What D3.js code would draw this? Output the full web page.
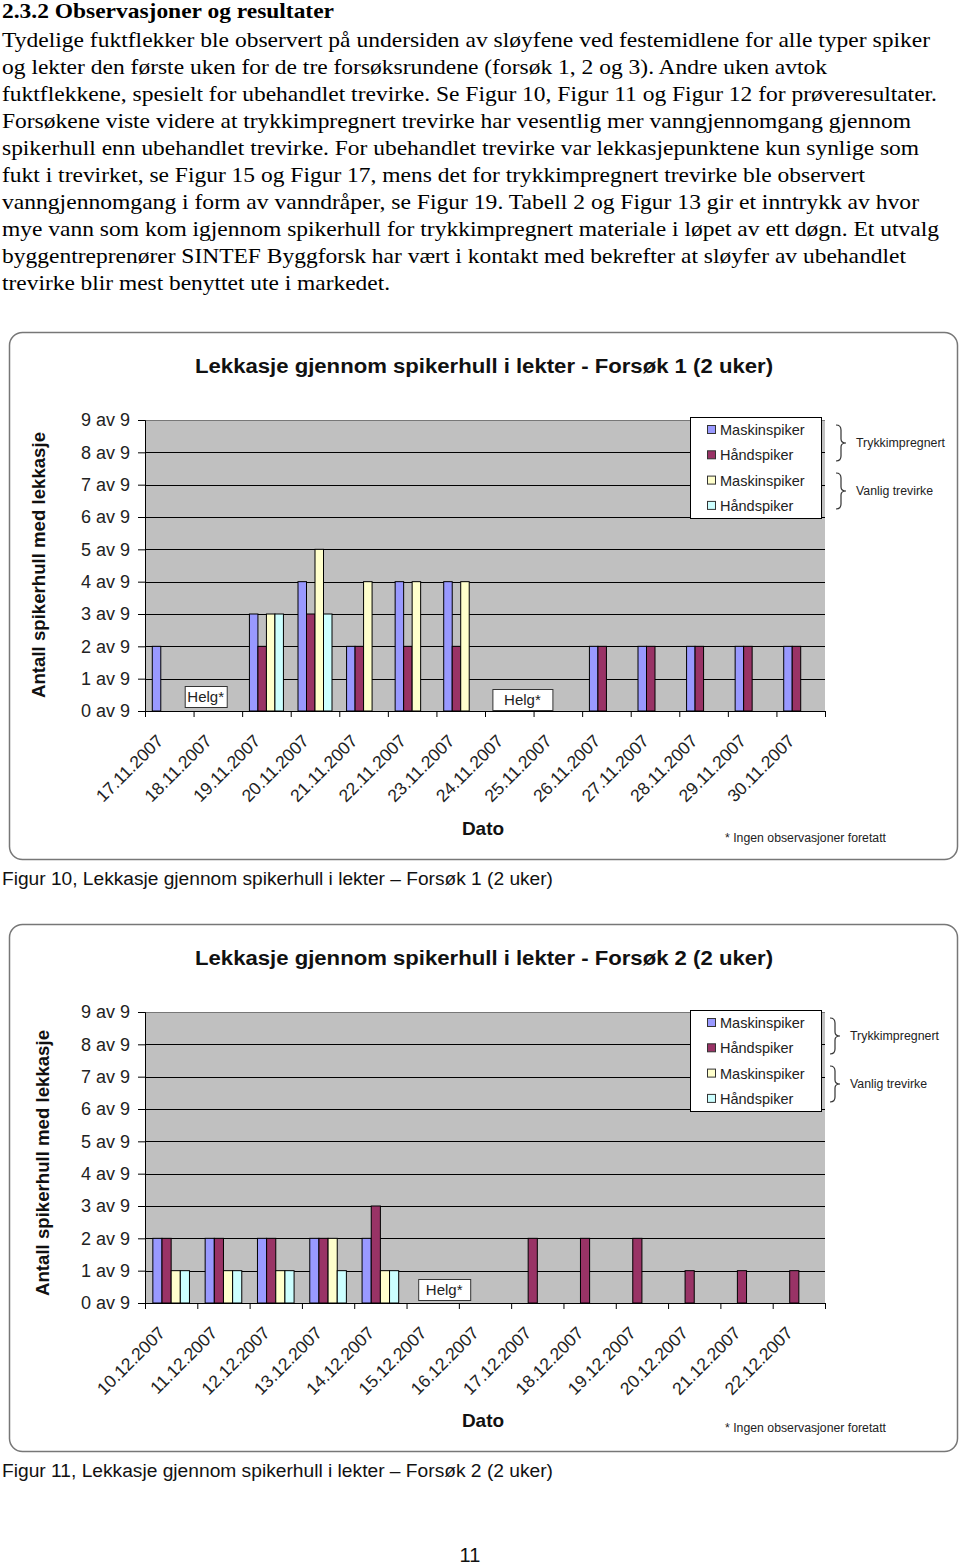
<!DOCTYPE html>
<html>
<head>
<meta charset="utf-8">
<script src="https://cdn.jsdelivr.net/npm/d3@7/dist/d3.min.js"></script>
<style>
  body { margin: 0; background: #fff; }
  svg { display: block; }
</style>
</head>
<body>
<div id="page"></div>
<script>
// chart data
var dates1 = ["17.11.2007", "18.11.2007", "19.11.2007", "20.11.2007", "21.11.2007", "22.11.2007", "23.11.2007",
              "24.11.2007", "25.11.2007", "26.11.2007", "27.11.2007", "28.11.2007", "29.11.2007", "30.11.2007"];
var dates2 = ["10.12.2007", "11.12.2007", "12.12.2007", "13.12.2007", "14.12.2007", "15.12.2007", "16.12.2007",
              "17.12.2007", "18.12.2007", "19.12.2007", "20.12.2007", "21.12.2007", "22.12.2007"];

var seriesNames = ["Maskinspiker", "Håndspiker", "Maskinspiker", "Håndspiker"];
var seriesColors = ["#9999ff", "#993366", "#ffffcc", "#ccffff"];
var groupNames = ["Trykkimpregnert", "Vanlig trevirke"];

// Forsøk 1
var trykkMaskin1 = [2, 0, 3, 4, 2, 4, 4, 0, 0, 2, 2, 2, 2, 2];
var trykkHand1   = [0, 0, 2, 3, 2, 2, 2, 0, 0, 2, 2, 2, 2, 2];
var vanligMaskin1 = [0, 0, 3, 5, 4, 4, 4, 0, 0, 0, 0, 0, 0, 0];
var vanligHand1   = [0, 0, 3, 3, 0, 0, 0, 0, 0, 0, 0, 0, 0, 0];

// Forsøk 2
var trykkMaskin2 = [2, 2, 2, 2, 2, 0, 0, 0, 0, 0, 0, 0, 0];
var trykkHand2   = [2, 2, 2, 2, 3, 0, 0, 2, 2, 2, 1, 1, 1];
var vanligMaskin2 = [1, 1, 1, 2, 1, 0, 0, 0, 0, 0, 0, 0, 0];
var vanligHand2   = [1, 1, 1, 1, 1, 0, 0, 0, 0, 0, 0, 0, 0];

var yTicks = [0, 1, 2, 3, 4, 5, 6, 7, 8, 9];
var helg1 = ["18.11.2007", "24.11.2007"];
var helg2 = ["15.12.2007"];

var heading = "2.3.2 Observasjoner og resultater";
var bodyLines = [
  "Tydelige fuktflekker ble observert på undersiden av sløyfene ved festemidlene for alle typer spiker",
  "og lekter den første uken for de tre forsøksrundene (forsøk 1, 2 og 3). Andre uken avtok",
  "fuktflekkene, spesielt for ubehandlet trevirke. Se Figur 10, Figur 11 og Figur 12 for prøveresultater.",
  "Forsøkene viste videre at trykkimpregnert trevirke har vesentlig mer vanngjennomgang gjennom",
  "spikerhull enn ubehandlet trevirke. For ubehandlet trevirke var lekkasjepunktene kun synlige som",
  "fukt i trevirket, se Figur 15 og Figur 17, mens det for trykkimpregnert trevirke ble observert",
  "vanngjennomgang i form av vanndråper, se Figur 19. Tabell 2 og Figur 13 gir et inntrykk av hvor",
  "mye vann som kom igjennom spikerhull for trykkimpregnert materiale i løpet av ett døgn. Et utvalg",
  "byggentreprenører SINTEF Byggforsk har vært i kontakt med bekrefter at sløyfer av ubehandlet",
  "trevirke blir mest benyttet ute i markedet."
];
// measured right edge of each justified line
var bodyWidths = [928, 825, 935, 909, 917, 863, 917, 937, 904, 388];

var serif = "'Liberation Serif', 'Times New Roman', Times, serif";
var sans = "'Liberation Sans', Arial, sans-serif";

var svg = d3.select("#page").append("svg")
  .attr("width", 960)
  .attr("height", 1567);

svg.append("rect").attr("width", 960).attr("height", 1567).attr("fill", "#fff");

// text above the charts
svg.append("text")
  .attr("x", 2).attr("y", 18)
  .attr("font-family", serif)
  .attr("font-weight", "bold")
  .attr("font-size", "21px")
  .attr("textLength", 332)
  .attr("lengthAdjust", "spacingAndGlyphs")
  .text(heading);

svg.selectAll(".body").data(bodyLines).enter()
  .append("text")
  .attr("class", "body")
  .attr("x", 2)
  .attr("y", (d, i) => 47 + i * 27)
  .attr("font-family", serif)
  .attr("font-size", "22px")
  .attr("textLength", (d, i) => bodyWidths[i])
  .attr("lengthAdjust", "spacingAndGlyphs")
  .text(d => d);

function brace(x, y0, y1) {
  var ym = (y0 + y1) / 2;
  return `M${x},${y0} Q${x + 5},${y0} ${x + 5},${y0 + 5} L${x + 5},${ym - 4} Q${x + 5},${ym} ${x + 10},${ym}` +
         ` Q${x + 5},${ym} ${x + 5},${ym + 4} L${x + 5},${y1 - 5} Q${x + 5},${y1} ${x},${y1}`;
}

function drawChart(cfg) {
  var g = svg.append("g").attr("transform", `translate(0, ${cfg.top})`);

  // outer frame
  g.append("rect")
    .attr("x", 9.5).attr("y", 0.5)
    .attr("width", 948).attr("height", 527)
    .attr("rx", 13)
    .attr("fill", "#fff")
    .attr("stroke", "#777")
    .attr("stroke-width", 1.5);

  g.append("text")
    .attr("x", 484).attr("y", 41)
    .attr("text-anchor", "middle")
    .attr("font-family", sans)
    .attr("font-weight", "bold")
    .attr("font-size", "20px")
    .attr("fill", "#111")
    .attr("textLength", 578)
    .attr("lengthAdjust", "spacingAndGlyphs")
    .text(cfg.title);

  var plot = { left: 145, right: 825, top: 88, bottom: 379 };

  var x0 = d3.scaleBand()
    .domain(cfg.dates)
    .range([plot.left, plot.right])
    .paddingInner(0).paddingOuter(0);

  var step = x0.step();
  var x1 = d3.scaleBand()
    .domain(d3.range(cfg.series.length))
    .range([step * 0.15, step * 0.85]);

  var y = d3.scaleLinear().domain([0, 9]).range([plot.bottom, plot.top]);

  g.append("rect")
    .attr("x", plot.left).attr("y", plot.top)
    .attr("width", plot.right - plot.left).attr("height", plot.bottom - plot.top)
    .attr("fill", "#c0c0c0");

  // gridlines
  g.selectAll(".grid").data(yTicks.slice(1)).enter()
    .append("line")
    .attr("x1", plot.left).attr("x2", plot.right)
    .attr("y1", d => Math.round(y(d)) + 0.5).attr("y2", d => Math.round(y(d)) + 0.5)
    .attr("stroke", d => d === 9 ? "#777" : "#000")
    .attr("stroke-width", 1);

  // bars
  var groups = g.selectAll(".day").data(cfg.dates).enter()
    .append("g")
    .attr("transform", d => `translate(${x0(d)}, 0)`);

  groups.selectAll("rect")
    .data((d, i) => cfg.series.map((s, k) => ({ k: k, v: s[i] })))
    .enter()
    .filter(d => d.v > 0)
    .append("rect")
    .attr("x", d => x1(d.k))
    .attr("y", d => y(d.v))
    .attr("width", x1.bandwidth())
    .attr("height", d => y(0) - y(d.v))
    .attr("fill", d => seriesColors[d.k])
    .attr("stroke", "#000")
    .attr("stroke-width", 1);

  // y axis
  var yAxis = d3.axisLeft(y)
    .tickValues(yTicks)
    .tickSize(7)
    .tickPadding(8)
    .tickFormat(d => d + " av 9");

  var ya = g.append("g")
    .attr("transform", `translate(${plot.left}, 0)`)
    .call(yAxis);
  ya.select(".domain").attr("stroke", "#000");
  ya.selectAll("text")
    .attr("font-family", sans)
    .attr("font-size", "18px")
    .attr("fill", "#222");

  // x axis: ticks at category boundaries, labels at centres
  var edge = d3.scaleLinear().domain([0, cfg.dates.length]).range([plot.left, plot.right]);
  var xEdges = d3.axisBottom(edge)
    .tickValues(d3.range(cfg.dates.length + 1))
    .tickSize(6)
    .tickSizeOuter(0)
    .tickFormat("");
  g.append("g")
    .attr("transform", `translate(0, ${plot.bottom})`)
    .call(xEdges)
    .select(".domain").attr("stroke", "#000");

  g.selectAll(".xlab").data(cfg.dates).enter()
    .append("text")
    .attr("transform", d => `translate(${x0(d) + step / 2 - 5}, ${plot.bottom + 31}) rotate(-45)`)
    .attr("text-anchor", "end")
    .attr("font-family", sans)
    .attr("font-size", "17.5px")
    .attr("fill", "#222")
    .text(d => d);

  // axis titles
  g.append("text")
    .attr("transform", `translate(${cfg.yTitleX}, ${cfg.yTitleY}) rotate(-90)`)
    .attr("text-anchor", "middle")
    .attr("font-family", sans)
    .attr("font-weight", "bold")
    .attr("font-size", "19px")
    .attr("fill", "#111")
    .attr("textLength", 266)
    .attr("lengthAdjust", "spacingAndGlyphs")
    .text("Antall spikerhull med lekkasje");

  g.append("text")
    .attr("x", 483).attr("y", 503)
    .attr("text-anchor", "middle")
    .attr("font-family", sans)
    .attr("font-weight", "bold")
    .attr("font-size", "19px")
    .attr("fill", "#111")
    .text("Dato");

  g.append("text")
    .attr("x", 725).attr("y", cfg.noteY)
    .attr("font-family", sans)
    .attr("font-size", "12.5px")
    .attr("fill", "#222")
    .attr("textLength", 161)
    .attr("lengthAdjust", "spacingAndGlyphs")
    .text("* Ingen observasjoner foretatt");

  // weekend boxes
  cfg.helg.forEach(function (h, i) {
    var box = cfg.helgBoxes[i];
    var bx = x0(h) + step * box.dx - box.w / 2;
    g.append("rect")
      .attr("x", bx + 0.5).attr("y", box.y + 0.5)
      .attr("width", box.w).attr("height", 21)
      .attr("fill", "#fff")
      .attr("stroke", "#333");
    g.append("text")
      .attr("x", bx + box.w / 2).attr("y", box.y + 16)
      .attr("text-anchor", "middle")
      .attr("font-family", sans)
      .attr("font-size", "15px")
      .attr("fill", "#222")
      .text("Helg*");
  });

  // legend
  var lg = g.append("g").attr("transform", `translate(690, ${cfg.legendTop})`);
  lg.append("rect")
    .attr("x", 0.5).attr("y", 0.5)
    .attr("width", 131).attr("height", 101)
    .attr("fill", "#fff")
    .attr("stroke", "#000");
  seriesNames.forEach(function (name, k) {
    lg.append("rect")
      .attr("x", 17.5).attr("y", 8.5 + k * 25.3)
      .attr("width", 8).attr("height", 8)
      .attr("fill", seriesColors[k])
      .attr("stroke", "#333");
    lg.append("text")
      .attr("x", 30).attr("y", 18 + k * 25.3)
      .attr("font-family", sans)
      .attr("font-size", "14.5px")
      .attr("fill", "#222")
      .text(name);
  });

  // braces grouping the legend rows
  groupNames.forEach(function (name, j) {
    var b0 = cfg.legendTop + 8 + j * 48;
    g.append("path")
      .attr("d", brace(cfg.braceX, b0, b0 + 36))
      .attr("fill", "none")
      .attr("stroke", "#333")
      .attr("stroke-width", 1.2);
    g.append("text")
      .attr("x", cfg.braceX + 20).attr("y", b0 + 22)
      .attr("font-family", sans)
      .attr("font-size", "12.5px")
      .attr("fill", "#222")
      .attr("textLength", name === "Trykkimpregnert" ? 89 : 77)
      .attr("lengthAdjust", "spacingAndGlyphs")
      .text(name);
  });

  // caption under the frame
  svg.append("text")
    .attr("x", 2).attr("y", cfg.top + 553)
    .attr("font-family", sans)
    .attr("font-size", "18px")
    .attr("fill", "#111")
    .attr("textLength", 551)
    .attr("lengthAdjust", "spacingAndGlyphs")
    .text(cfg.caption);
}

drawChart({
  top: 332,
  title: "Lekkasje gjennom spikerhull i lekter - Forsøk 1 (2 uker)",
  caption: "Figur 10, Lekkasje gjennom spikerhull i lekter – Forsøk 1 (2 uker)",
  dates: dates1,
  series: [trykkMaskin1, trykkHand1, vanligMaskin1, vanligHand1],
  helg: helg1,
  helgBoxes: [{ dx: 0.25, w: 42, y: 354 }, { dx: 0.77, w: 60, y: 357 }],
  legendTop: 85,
  braceX: 836,
  yTitleX: 45,
  yTitleY: 233,
  noteY: 510
});

drawChart({
  top: 924,
  title: "Lekkasje gjennom spikerhull i lekter - Forsøk 2 (2 uker)",
  caption: "Figur 11, Lekkasje gjennom spikerhull i lekter – Forsøk 2 (2 uker)",
  dates: dates2,
  series: [trykkMaskin2, trykkHand2, vanligMaskin2, vanligHand2],
  helg: helg2,
  helgBoxes: [{ dx: 0.72, w: 52, y: 355 }],
  legendTop: 86,
  braceX: 830,
  yTitleX: 49,
  yTitleY: 239,
  noteY: 508
});

// page number
svg.append("text")
  .attr("x", 470).attr("y", 1562)
  .attr("text-anchor", "middle")
  .attr("font-family", sans)
  .attr("font-size", "20px")
  .attr("fill", "#111")
  .text("11");
</script>
</body>
</html>
